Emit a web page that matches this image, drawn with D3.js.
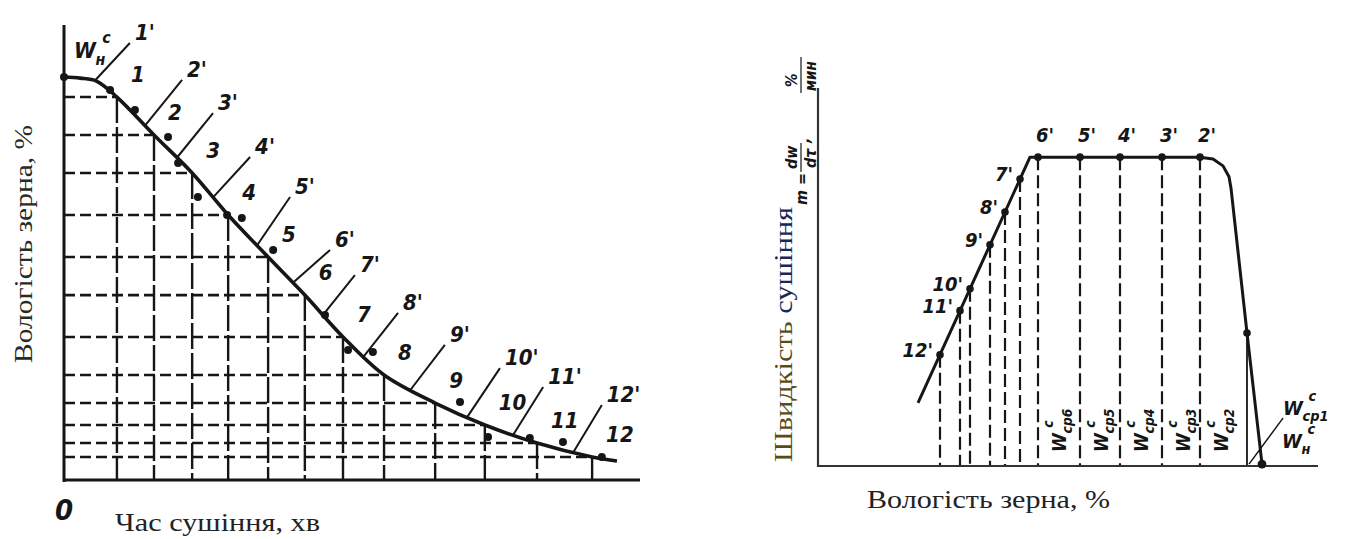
<!DOCTYPE html>
<html>
<head>
<meta charset="utf-8">
<script src="https://cdn.jsdelivr.net/npm/d3@7"></script>
<style>
body{margin:0;background:#fff}
svg{display:block}
</style>
</head>
<body>
<svg id="fig" width="1352" height="539"></svg>
<script>
// ---- left chart: grain moisture vs drying time ----
var L_labels = ["1","2","3","4","5","6","7","8","9","10","11","12"];
var L_gridT = [1.47, 2.5, 3.56, 4.56, 5.67, 6.69, 7.75, 8.89, 10.31, 11.69, 13.14, 14.67];
var L_gridW = [21.04, 18.96, 16.87, 14.56, 12.25, 10.16, 7.86, 5.77, 4.23, 3.02, 2.03, 1.26];
// curve: start (W_н) + shoulder + grid points + tail
var L_headT = [0, 0.45, 0.9], L_headW = [22.14, 22.08, 21.92];
var L_tailT = [15.36], L_tailW = [1.04];
// experimental dots
var L_dotT = [0, 1.28, 1.97, 2.89, 3.17, 3.72, 4.53, 4.94, 5.81, 7.25, 7.89, 8.58, 11.0, 11.78, 12.94, 13.86, 14.94];
var L_dotW = [22.14, 21.43, 20.33, 18.85, 17.42, 15.55, 14.56, 14.4, 12.64, 9.07, 7.14, 7.03, 4.29, 2.36, 2.31, 2.09, 1.26];
// normals 1'..12'
var L_primeLabels = ["1'","2'","3'","4'","5'","6'","7'","8'","9'","10'","11'","12'"];
var L_primeStartT = [0.86, 2.25, 3.14, 4.14, 5.36, 6.36, 7.19, 8.31, 9.61, 11.19, 12.47, 14.14];
var L_primeEndT = [1.83, 3.28, 4.14, 5.17, 6.28, 7.39, 8.08, 9.28, 10.58, 12.11, 13.31, 14.94];
var L_primeEndW = [24.01, 21.98, 20.16, 17.75, 15.55, 12.64, 11.26, 9.18, 7.42, 6.15, 5.11, 4.12];

// ---- right chart: drying rate vs moisture ----
var R_primeLabels = ["12'","11'","10'","9'","8'","7'","6'","5'","4'","3'","2'"];
var R_primeW = [6.1, 7.1, 7.6, 8.6, 9.35, 10.1, 11.0, 13.1, 15.1, 17.2, 19.1];
var R_primeRate = [2.94, 4.11, 4.69, 5.85, 6.72, 7.59, 8.17, 8.17, 8.17, 8.17, 8.17];
var R_cpIdx = ["6","5","4","3","2"];
var R_cpW = [11.0, 13.1, 15.1, 17.2, 19.1];
var R_curveW = [5.0, 10.6, 19.1, 19.75, 20.25, 20.55, 20.65, 21.45, 22.2];
var R_curveRate = [1.67, 8.17, 8.17, 8.12, 7.94, 7.65, 7.35, 3.52, 0.05];
var R_cp1 = [21.45, 3.52], R_start = [22.2, 0.05];

var ink = "#161616";
var labFont = "'DejaVu Sans Condensed','DejaVu Sans',sans-serif";
var serif = "'Liberation Serif','Times New Roman',serif";

var svg = d3.select("#fig");

var xL = d3.scaleLinear().domain([0, 16]).range([64, 640]);
var yL = d3.scaleLinear().domain([0, 25]).range([480, 25]);
var xR = d3.scaleLinear().domain([0, 25]).range([818, 1318]);
var yR = d3.scaleLinear().domain([0, 10]).range([466, 88]);

function wLabel(g, x, y, sub, sup, size){
	var t = g.append("g").attr("transform", "translate(" + x + "," + y + ")")
		.style("font-family", labFont).style("font-style", "italic")
		.style("font-weight", "bold").style("fill", ink);
	t.append("text").attr("x", 0).attr("y", 0).style("font-size", size + "px").text("W");
	t.append("text").attr("x", size*0.98).attr("y", size*0.3).style("font-size", (size*0.72) + "px").text(sub);
	t.append("text").attr("x", size*1.28).attr("y", -size*0.68).style("font-size", (size*0.72) + "px").text(sup);
	return t;
}

// ================= LEFT =================
var LG = svg.append("g");

// grid: horizontal dashes to the curve, verticals down to the axis
LG.selectAll(".hgrid").data(L_gridT).enter().append("line")
	.attr("x1", xL(0)).attr("x2", function(d){ return xL(d); })
	.attr("y1", function(d,i){ return yL(L_gridW[i]); })
	.attr("y2", function(d,i){ return yL(L_gridW[i]); })
	.style("stroke", ink).style("stroke-width", 2.6)
	.style("stroke-dasharray", "11,5");
LG.selectAll(".vgrid").data(L_gridT).enter().append("line")
	.attr("x1", function(d){ return xL(d); }).attr("x2", function(d){ return xL(d); })
	.attr("y1", function(d,i){ return yL(L_gridW[i]); }).attr("y2", yL(0))
	.style("stroke", ink).style("stroke-width", 2.4)
	.style("stroke-dasharray", "26,4");

// axes
LG.append("line").attr("x1", xL(0)).attr("x2", xL(0)).attr("y1", yL(25)).attr("y2", yL(0) + 2)
	.style("stroke", ink).style("stroke-width", 3);
LG.append("line").attr("x1", xL(0) - 1).attr("x2", 640).attr("y1", yL(0)).attr("y2", yL(0))
	.style("stroke", ink).style("stroke-width", 3);

// curve
var L_curve = [];
L_headT.forEach(function(t,i){ L_curve.push([t, L_headW[i]]); });
L_gridT.forEach(function(t,i){ L_curve.push([t, L_gridW[i]]); });
L_tailT.forEach(function(t,i){ L_curve.push([t, L_tailW[i]]); });
var lineL = d3.line().x(function(d){ return xL(d[0]); }).y(function(d){ return yL(d[1]); })
	.curve(d3.curveCatmullRom.alpha(0.5));
var cPath = LG.append("path").attr("d", lineL(L_curve))
	.style("fill", "none").style("stroke", ink).style("stroke-width", 3.6);

// sample the curve to start the normals exactly on it
var node = cPath.node(), len = node.getTotalLength();
var samples = d3.range(0, len, 0.5).map(function(l){ return node.getPointAtLength(l); });
function yAtX(px){
	var i = d3.bisector(function(d){ return d.x; }).left(samples, px);
	if (i <= 0) return samples[0].y;
	if (i >= samples.length) return samples[samples.length-1].y;
	var a = samples[i-1], b = samples[i];
	return a.y + (b.y - a.y) * (px - a.x) / ((b.x - a.x) || 1);
}

LG.selectAll(".prime").data(L_primeStartT).enter().append("line")
	.attr("x1", function(d){ return xL(d); })
	.attr("y1", function(d){ return yAtX(xL(d)); })
	.attr("x2", function(d,i){ return xL(L_primeEndT[i]); })
	.attr("y2", function(d,i){ return yL(L_primeEndW[i]); })
	.style("stroke", ink).style("stroke-width", 2);

LG.selectAll(".plab").data(L_primeLabels).enter().append("text")
	.attr("x", function(d,i){ return xL(L_primeEndT[i]) + 5; })
	.attr("y", function(d,i){ return yL(L_primeEndW[i]) - 3; })
	.style("font-family", labFont).style("font-style", "italic").style("font-weight", "bold")
	.style("font-size", "22px").style("fill", ink).text(function(d){ return d; });

LG.selectAll(".glab").data(L_labels).enter().append("text")
	.attr("x", function(d,i){ return xL(L_gridT[i]) + 14; })
	.attr("y", function(d,i){ return yL(L_gridW[i]) - 15; })
	.style("font-family", labFont).style("font-style", "italic").style("font-weight", "bold")
	.style("font-size", "22px").style("fill", ink).text(function(d){ return d; });

LG.selectAll(".dot").data(L_dotT).enter().append("circle")
	.attr("cx", function(d){ return xL(d); })
	.attr("cy", function(d,i){ return yL(L_dotW[i]); })
	.attr("r", 4).style("fill", ink);

wLabel(LG, 74, 58, "н", "с", 22);

LG.append("text").attr("x", 55).attr("y", 520)
	.style("font-family", labFont).style("font-style", "italic").style("font-weight", "bold")
	.style("font-size", "29px").style("fill", ink).text("0");

LG.append("text").attr("x", 115).attr("y", 531)
	.attr("textLength", 205).attr("lengthAdjust", "spacingAndGlyphs")
	.style("font-family", serif).style("font-size", "25px").style("fill", "#222")
	.text("Час сушіння, хв");

LG.append("text").attr("transform", "translate(32,363) rotate(-90)")
	.attr("textLength", 238).attr("lengthAdjust", "spacingAndGlyphs")
	.style("font-family", serif).style("font-size", "25px").style("fill", "#2a2a22")
	.text("Вологість зерна, %");

// ================= RIGHT =================
var RG = svg.append("g");

RG.selectAll(".rv").data(R_primeW).enter().append("line")
	.attr("x1", function(d){ return xR(d); }).attr("x2", function(d){ return xR(d); })
	.attr("y1", function(d,i){ return yR(R_primeRate[i]); }).attr("y2", yR(0))
	.style("stroke", ink).style("stroke-width", 2.2)
	.style("stroke-dasharray", "13,5");

RG.append("line").attr("x1", xR(R_cp1[0])).attr("x2", xR(R_cp1[0]))
	.attr("y1", yR(R_cp1[1])).attr("y2", yR(0))
	.style("stroke", ink).style("stroke-width", 1.8);

// axes
RG.append("line").attr("x1", xR(0)).attr("x2", xR(0)).attr("y1", yR(10)).attr("y2", yR(0) + 1)
	.style("stroke", "#333").style("stroke-width", 2.2);
RG.append("line").attr("x1", xR(0)).attr("x2", xR(25)).attr("y1", yR(0)).attr("y2", yR(0))
	.style("stroke", "#333").style("stroke-width", 2.2);

var R_curve = R_curveW.map(function(w,i){ return [w, R_curveRate[i]]; });
var lineR = d3.line().x(function(d){ return xR(d[0]); }).y(function(d){ return yR(d[1]); });
RG.append("path").attr("d", lineR(R_curve))
	.style("fill", "none").style("stroke", ink).style("stroke-width", 3)
	.style("stroke-linejoin", "round");

RG.selectAll(".rdot").data(R_primeW).enter().append("circle")
	.attr("cx", function(d){ return xR(d); })
	.attr("cy", function(d,i){ return yR(R_primeRate[i]); })
	.attr("r", 3.8).style("fill", ink);
RG.append("circle").attr("cx", xR(R_cp1[0])).attr("cy", yR(R_cp1[1])).attr("r", 3.8).style("fill", ink);
RG.append("circle").attr("cx", xR(R_start[0])).attr("cy", yR(R_start[1])).attr("r", 4.4).style("fill", ink);

// leader from the end point to the W labels
RG.append("line")
	.attr("x1", xR(R_start[0]) - 13).attr("y1", yR(R_start[1]))
	.attr("x2", xR(R_start[0]) + 21).attr("y2", yR(R_start[1]) - 46)
	.style("stroke", ink).style("stroke-width", 1.5);

RG.selectAll(".rlab").data(R_primeLabels).enter().append("text")
	.attr("x", function(d,i){ return R_primeRate[i] >= 8.17 ? xR(R_primeW[i]) - 2 : xR(R_primeW[i]) - 7; })
	.attr("y", function(d,i){ return R_primeRate[i] >= 8.17 ? yR(R_primeRate[i]) - 15 : yR(R_primeRate[i]) + 2; })
	.attr("text-anchor", function(d,i){ return R_primeRate[i] >= 8.17 ? "start" : "end"; })
	.style("font-family", labFont).style("font-style", "italic").style("font-weight", "bold")
	.style("font-size", "20px").style("fill", ink).text(function(d){ return d; });

R_cpW.forEach(function(w,i){
	var g = RG.append("g").attr("transform", "translate(" + (xR(w) + 28) + ",452) rotate(-90)");
	wLabel(g, 0, 0, "ср" + R_cpIdx[i], "с", 19);
});

wLabel(RG, 1283, 415, "ср1", "с", 20);
wLabel(RG, 1282, 448, "н", "с", 20);

// axis titles
RG.append("text").attr("x", 867).attr("y", 508)
	.attr("textLength", 243).attr("lengthAdjust", "spacingAndGlyphs")
	.style("font-family", serif).style("font-size", "25px").style("fill", "#222")
	.text("Вологість зерна, %");

var ry = RG.append("text").attr("transform", "translate(792,462) rotate(-90)")
	.attr("textLength", 255).attr("lengthAdjust", "spacingAndGlyphs")
	.style("font-family", serif).style("font-size", "25px");
ry.append("tspan").style("fill", "#5a4a16").text("Швидкість ");
ry.append("tspan").style("fill", "#1c2654").text("сушіння");

// rate formula m = dw/dτ, %/мин (rotated)
var fm = RG.append("g").attr("transform", "translate(807,205) rotate(-90)")
	.style("font-family", labFont).style("font-style", "italic")
	.style("font-weight", "bold").style("fill", ink);
fm.append("text").attr("x", 0).attr("y", 0).style("font-size", "16px").text("m =");
fm.append("text").attr("x", 36).attr("y", -10).style("font-size", "16px").text("dw");
fm.append("line").attr("x1", 33).attr("x2", 62).attr("y1", -6).attr("y2", -6)
	.style("stroke", ink).style("stroke-width", 1.2);
fm.append("text").attr("x", 37).attr("y", 9).style("font-size", "16px").text("dτ");
fm.append("text").attr("x", 62).attr("y", 3).style("font-size", "16px").text(",");
fm.append("text").attr("x", 118).attr("y", -10).style("font-size", "15px").text("%");
fm.append("line").attr("x1", 112).attr("x2", 148).attr("y1", -6).attr("y2", -6)
	.style("stroke", ink).style("stroke-width", 1.2);
fm.append("text").attr("x", 114).attr("y", 9).style("font-size", "15px").text("мин");
</script>
</body>
</html>
